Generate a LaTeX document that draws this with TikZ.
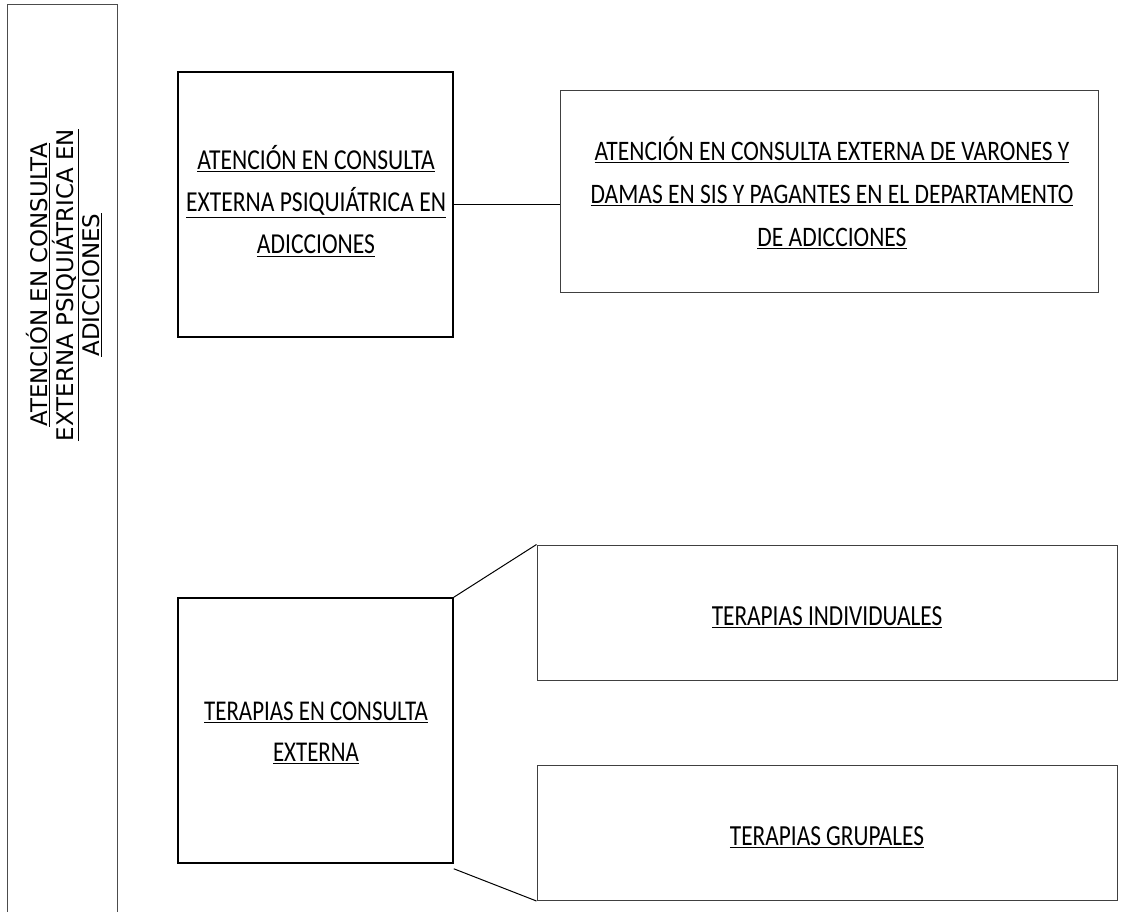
\documentclass[tikz,border=0pt]{standalone}
\usepackage{fontspec}
\setmainfont{Carlito}
\newfontfamily\rotfont{DejaVu Sans}
\usepackage{graphicx}
\tikzset{
  box/.style={draw=black, line width=1.5bp, inner sep=0pt},
  thinbox/.style={draw=black!75, line width=1bp, inner sep=0pt},
  conn/.style={draw=black, line width=1bp},
  lbl/.style={align=center, inner sep=0pt}
}
\newcommand{\ul}[1]{\underline{#1}}
\begin{document}
\begin{tikzpicture}[x=1bp,y=-1bp]
\useasboundingbox (0,0) rectangle (1123,912);
\fill[white] (0,0) rectangle (1123,912);
% left tall box
\draw[draw=black!70, line width=1bp] (7,925) -- (7,4) -- (117,4) -- (117,925);
\node[lbl, rotate=90, font=\rotfont\fontsize{23}{26.5}\selectfont] (side) at (64,285)
  {\ul{ATENCIÓN EN CONSULTA}\\ \ul{EXTERNA PSIQUIÁTRICA EN}\\ \ul{ADICCIONES}};
% boxes
\node[box, minimum width=275bp, minimum height=265bp] (b1) at (315.5,204.5) {};
\node[thinbox, minimum width=538bp, minimum height=202bp] (b2) at (829,191) {};
\node[box, minimum width=275bp, minimum height=265bp] (b3) at (315.5,730.5) {};
\node[thinbox, minimum width=580bp, minimum height=135bp] (b4) at (827,612.5) {};
\node[thinbox, minimum width=580bp, minimum height=135bp] (b5) at (827,833) {};
% texts
\node[lbl] (t1) at (316,203) {\scalebox{1.02}[1.25]{\fontsize{23.2}{34}\selectfont\begin{tabular}{@{}c@{}}\ul{ATENCIÓN EN CONSULTA}\\ \ul{EXTERNA PSIQUIÁTRICA EN}\\ \ul{ADICCIONES}\end{tabular}}};
\node[lbl] (t2) at (832,195) {\scalebox{1}[1.2]{\fontsize{23.6}{36}\selectfont\begin{tabular}{@{}c@{}}\ul{ATENCIÓN EN CONSULTA EXTERNA DE VARONES Y}\\ \ul{DAMAS EN SIS Y PAGANTES EN EL DEPARTAMENTO}\\ \ul{DE ADICCIONES}\end{tabular}}};
\node[lbl] (t3) at (316,733) {\scalebox{1}[1.25]{\fontsize{23}{33}\selectfont\begin{tabular}{@{}c@{}}\ul{TERAPIAS EN CONSULTA}\\ \ul{EXTERNA}\end{tabular}}};
\node[lbl] (t4) at (827,617) {\scalebox{1}[1.25]{\fontsize{23.4}{34}\selectfont\ul{TERAPIAS INDIVIDUALES}}};
\node[lbl] (t5) at (827,837) {\scalebox{1}[1.25]{\fontsize{23.4}{34}\selectfont\ul{TERAPIAS GRUPALES}}};
% connectors
\draw[conn] (b1.east) -- (b1.east -| b2.west);
\draw[conn] (b3.north east) -- (b4.north west);
\draw[conn] ([yshift=-5bp]b3.south east) -- (b5.south west);
\end{tikzpicture}
\end{document}
